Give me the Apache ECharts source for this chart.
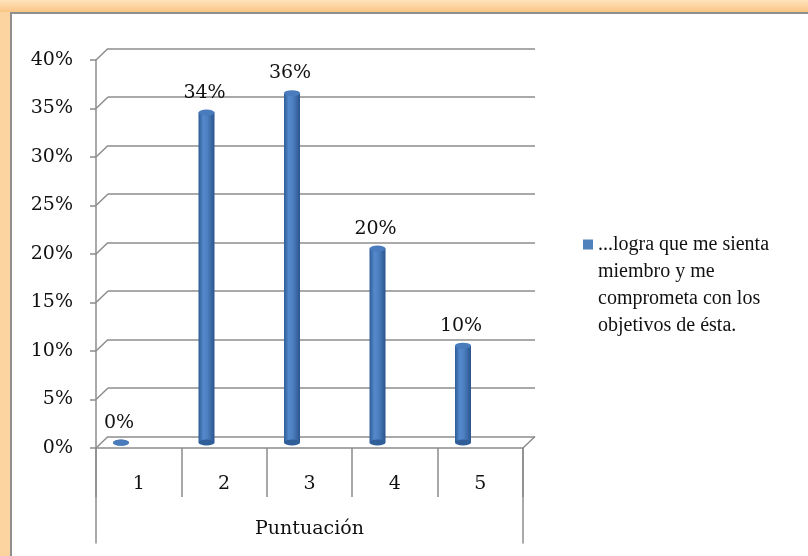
<!DOCTYPE html>
<html>
<head>
<meta charset="utf-8">
<script src="https://cdn.jsdelivr.net/npm/echarts@6/dist/echarts.min.js"></script>
<style>
html,body{margin:0;padding:0;background:#fff;}
#frame{position:absolute;left:0;top:0;width:808px;height:556px;background:#FCD4A0;overflow:hidden;}
#topband{position:absolute;left:0;top:0;width:808px;height:12px;background:linear-gradient(180deg,#FEE3BD 0%,#FBD19A 60%,#F8C686 100%);}
#inner{position:absolute;left:10px;top:12px;width:798px;height:544px;box-sizing:border-box;background:#fff;border-left:2px solid #8F8F8F;border-top:2px solid #8F8F8F;}
#chart{position:absolute;left:0;top:0;width:808px;height:556px;}
</style>
</head>
<body>
<div id="frame"><div id="topband"></div><div id="inner"></div></div>
<div id="chart"></div>
<script>
const categories = ['1', '2', '3', '4', '5'];
const values = [0, 34, 36, 20, 10];
const yTicks = [0, 5, 10, 15, 20, 25, 30, 35, 40];
const seriesName = '...logra que me sienta\nmiembro y me\ncomprometa con los\nobjetivos de ésta.';
const axisTitle = 'Puntuación';

const gray = '#8C8C8C';
const textColor = '#111';
const numFont = 'DejaVu Serif';
const depthX = 12, depthY = 11.5;

const chart = echarts.init(document.getElementById('chart'), null, {renderer: 'canvas'});

const barGradient = new echarts.graphic.LinearGradient(0, 0, 1, 0, [
  {offset: 0, color: '#2E5C97'},
  {offset: 0.3, color: '#5489CB'},
  {offset: 0.55, color: '#4D80C1'},
  {offset: 1, color: '#2B558D'}
]);

// legend icon: a 10x10 square sitting on the first text line of a 108px-tall item box
const legendIcon = 'path://M0,0L0.01,0Z M0,8.5L10,8.5L10,18.5L0,18.5Z M10,108L9.99,108Z';

const option = {
  animation: false,
  backgroundColor: 'transparent',
  grid: [
    {left: 96, top: 60, width: 427, height: 388},
    {left: 96 + depthX, top: 60 - depthY, width: 427, height: 388},
    {left: 96, top: 448, width: 427, height: 95},
    {left: 78.25, top: 54, width: 427.5, height: 388.5}
  ],
  xAxis: [
    {
      gridIndex: 0, type: 'category', data: categories, boundaryGap: true,
      axisLine: {show: true, lineStyle: {color: gray, width: 1.5}},
      axisTick: {show: true, interval: 0, length: 49, lineStyle: {color: gray, width: 1.5}},
      axisLabel: {margin: 27, fontFamily: numFont, fontSize: 19, color: textColor},
      name: axisTitle, nameLocation: 'middle', nameGap: 72,
      nameTextStyle: {fontFamily: numFont, fontSize: 19, color: textColor},
      splitLine: {show: false}
    },
    {gridIndex: 1, type: 'category', data: categories, show: false},
    {gridIndex: 2, type: 'category', data: categories, show: false},
    {gridIndex: 3, type: 'category', data: categories, show: false}
  ],
  yAxis: [
    {
      gridIndex: 0, type: 'value', min: 0, max: 40, interval: 5,
      axisLine: {show: true, lineStyle: {color: gray, width: 1.5}},
      axisTick: {show: true, length: 6, lineStyle: {color: gray, width: 1.5}},
      axisLabel: {formatter: '{value}%', margin: 23, fontFamily: numFont, fontSize: 19, color: textColor},
      splitLine: {show: false}
    },
    {
      gridIndex: 1, type: 'value', min: 0, max: 40, interval: 5,
      axisLine: {show: false}, axisTick: {show: false}, axisLabel: {show: false},
      splitLine: {show: true, lineStyle: {color: gray, width: 1.5}}
    },
    {
      gridIndex: 2, type: 'value', min: 0, max: 1, position: 'left',
      axisLine: {show: true, lineStyle: {color: gray, width: 1.5}},
      axisTick: {show: false}, axisLabel: {show: false}, splitLine: {show: false}
    },
    {
      gridIndex: 2, type: 'value', min: 0, max: 1, position: 'right',
      axisLine: {show: true, lineStyle: {color: gray, width: 1.5}},
      axisTick: {show: false}, axisLabel: {show: false}, splitLine: {show: false}
    },
    {
      gridIndex: 3, type: 'value', min: 0, max: 40, show: false
    }
  ],
  legend: {
    data: [{name: seriesName, icon: legendIcon, itemStyle: {color: '#4F81BD'}}],
    left: 583, top: 231, padding: 0,
    itemWidth: 10, itemHeight: 108, itemGap: 6,
    selectedMode: false,
    textStyle: {fontFamily: 'Liberation Serif', fontSize: 20, lineHeight: 27, color: textColor}
  },
  series: [
    {
      type: 'custom', xAxisIndex: 0, yAxisIndex: 0, silent: true, z: 1,
      data: yTicks.map(v => [0, v]),
      renderItem: function (params, api) {
        const cs = params.coordSys;
        const v = api.value(1);
        const y = api.coord([0, v])[1];
        const style = {stroke: gray, lineWidth: 1.5, fill: null};
        const children = [{type: 'line', shape: {x1: cs.x, y1: y, x2: cs.x + depthX, y2: y - depthY}, style: style}];
        if (v === 0) {
          children.push({type: 'line', shape: {x1: cs.x + cs.width, y1: y, x2: cs.x + cs.width + depthX, y2: y - depthY}, style: style});
        }
        return {type: 'group', children: children};
      }
    },
    {
      name: seriesName, type: 'bar', xAxisIndex: 3, yAxisIndex: 4,
      data: values, barWidth: 16, z: 3,
      itemStyle: {color: barGradient},
      label: {
        show: true, position: 'top', distance: 10, offset: [-2, 0],
        formatter: '{c}%', fontFamily: numFont, fontSize: 19, color: textColor
      }
    },
    {
      type: 'pictorialBar', xAxisIndex: 3, yAxisIndex: 4, z: 4,
      data: values, symbol: 'circle', symbolSize: [16, 6],
      symbolPosition: 'start', symbolOffset: [0, '50%'],
      itemStyle: {color: '#2F5E99'}, silent: true
    },
    {
      type: 'pictorialBar', xAxisIndex: 3, yAxisIndex: 4, z: 5,
      data: values, symbol: 'circle', symbolSize: [16, 6],
      symbolPosition: 'end', symbolOffset: [0, '-50%'],
      itemStyle: {color: '#4A7CBD', borderColor: '#30609C', borderWidth: 1}, silent: true
    }
  ]
};
chart.setOption(option);
</script>
</body>
</html>
